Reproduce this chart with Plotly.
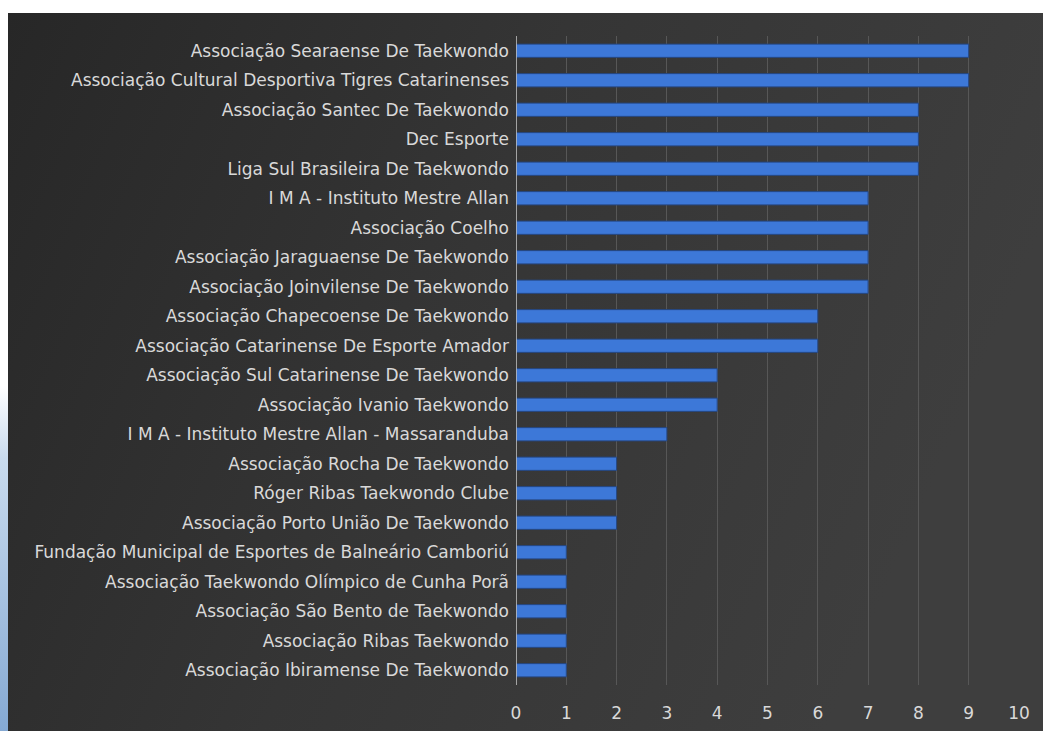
import base64
import plotly.graph_objects as go

categories = [
    "Associação Searaense De Taekwondo",
    "Associação Cultural Desportiva Tigres Catarinenses",
    "Associação Santec De Taekwondo",
    "Dec Esporte",
    "Liga Sul Brasileira De Taekwondo",
    "I M A - Instituto Mestre Allan",
    "Associação Coelho",
    "Associação Jaraguaense De Taekwondo",
    "Associação Joinvilense De Taekwondo",
    "Associação Chapecoense De Taekwondo",
    "Associação Catarinense De Esporte Amador",
    "Associação Sul Catarinense De Taekwondo",
    "Associação Ivanio Taekwondo",
    "I M A - Instituto Mestre Allan - Massaranduba",
    "Associação Rocha De Taekwondo",
    "Róger Ribas Taekwondo Clube",
    "Associação Porto União De Taekwondo",
    "Fundação Municipal de Esportes de Balneário Camboriú",
    "Associação Taekwondo Olímpico de Cunha Porã",
    "Associação São Bento de Taekwondo",
    "Associação Ribas Taekwondo",
    "Associação Ibiramense De Taekwondo",
]
values = [9, 9, 8, 8, 8, 7, 7, 7, 7, 6, 6, 4, 4, 3, 2, 2, 2, 1, 1, 1, 1, 1]
tick_values = list(range(0, 11))

W, H = 1043, 731
L, R, T, B = 516, 24, 36, 46
pw, ph = W - L - R, H - T - B

def px_x(p):
    return (p - L) / pw

def px_y(p):
    return (H - B - p) / ph

svg_bg = (
    '<svg xmlns="http://www.w3.org/2000/svg" width="100" height="100" preserveAspectRatio="none">'
    '<defs><linearGradient id="g" x1="0" y1="0" x2="1" y2="0.3">'
    '<stop offset="0" stop-color="#272727"/><stop offset="0.5" stop-color="#353535"/>'
    '<stop offset="1" stop-color="#3e3e3e"/></linearGradient></defs>'
    '<rect width="100" height="100" fill="url(#g)"/></svg>'
)
svg_side = (
    '<svg xmlns="http://www.w3.org/2000/svg" width="10" height="100" preserveAspectRatio="none">'
    '<defs><linearGradient id="s" x1="0" y1="0" x2="0" y2="1">'
    '<stop offset="0" stop-color="#ffffff"/><stop offset="0.52" stop-color="#ffffff"/>'
    '<stop offset="0.62" stop-color="#c9dbee"/><stop offset="1" stop-color="#85a9d3"/></linearGradient></defs>'
    '<rect width="10" height="100" fill="url(#s)"/></svg>'
)

def uri(s):
    return "data:image/svg+xml;base64," + base64.b64encode(s.encode()).decode()

FONT = "DejaVu Sans, Open Sans, sans-serif"

fig = go.Figure(
    go.Bar(
        x=values,
        y=categories,
        orientation="h",
        width=0.45,
        marker=dict(color="#3d78d8", line=dict(color="#25467f", width=1)),
    )
)

fig.update_layout(
    width=W,
    height=H,
    autosize=False,
    margin=dict(l=L, r=R, t=T, b=B),
    paper_bgcolor="#ffffff",
    plot_bgcolor="rgba(0,0,0,0)",
    showlegend=False,
    font=dict(family=FONT, color="#d9d9d9", size=17),
    images=[
        dict(
            source=uri(svg_bg), xref="paper", yref="paper",
            x=px_x(8), y=px_y(13), sizex=px_x(W) - px_x(8), sizey=px_y(13) - px_y(H),
            sizing="stretch", xanchor="left", yanchor="top", layer="below",
        ),
        dict(
            source=uri(svg_side), xref="paper", yref="paper",
            x=px_x(0), y=px_y(13), sizex=px_x(8) - px_x(0), sizey=px_y(13) - px_y(H),
            sizing="stretch", xanchor="left", yanchor="top", layer="below",
        ),
    ],
    xaxis=dict(
        range=[0, 10],
        tickvals=tick_values,
        showgrid=True,
        gridcolor="#575757",
        gridwidth=1,
        zeroline=False,
        showline=False,
        ticks="",
        automargin=False,
        ticklabelstandoff=16,
        tickfont=dict(family=FONT, size=17, color="#d9d9d9"),
        fixedrange=True,
    ),
    yaxis=dict(
        categoryorder="array",
        categoryarray=categories[::-1],
        range=[-0.5, len(categories) - 0.5],
        showgrid=False,
        zeroline=False,
        showline=False,
        ticks="",
        automargin=False,
        ticklabelstandoff=6,
        tickfont=dict(family=FONT, size=17, color="#d9d9d9"),
        fixedrange=True,
    ),
    shapes=[
        dict(type="line", xref="x", yref="paper", x0=0, x1=0, y0=0, y1=1,
             line=dict(color="#c8c8c8", width=1.5), layer="above"),
    ],
)

fig.write_html(
    "out.html",
    config={"displayModeBar": False, "responsive": False},
    post_script="document.body.style.margin='0';document.body.style.overflow='hidden';",
)
